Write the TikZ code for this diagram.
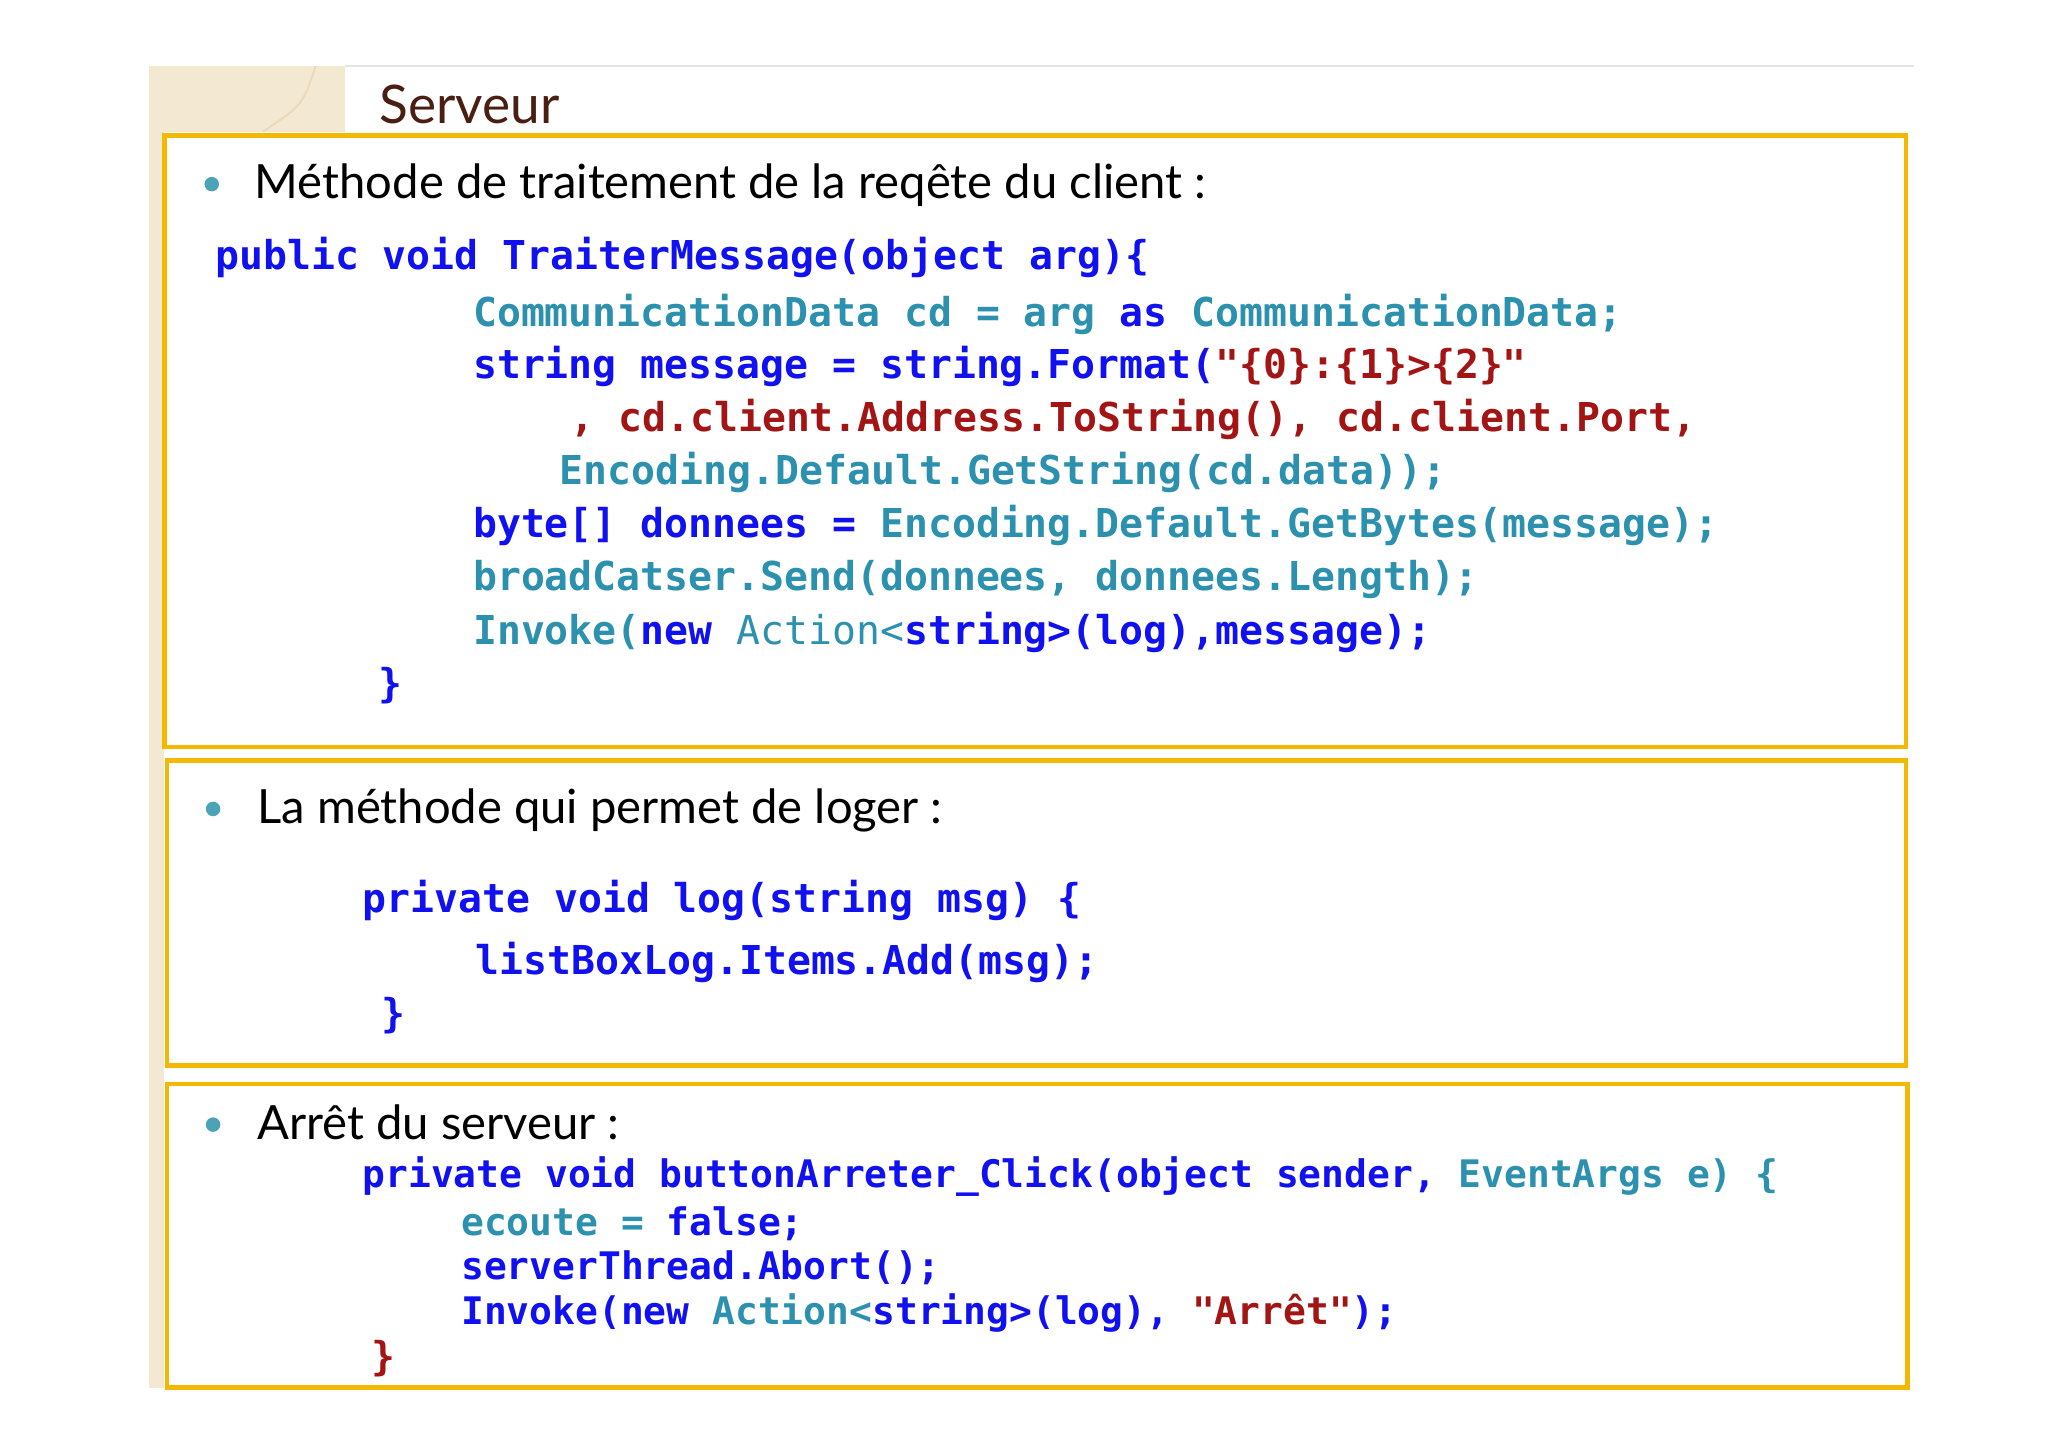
\documentclass[tikz,border=0pt]{standalone}
\usepackage{fontspec}
\setmainfont{Lato}
\setmonofont{DejaVu Sans Mono}
\definecolor{kw}{HTML}{1010F0}
\definecolor{ty}{HTML}{2B91AF}
\definecolor{st}{HTML}{A31515}
\definecolor{frame}{HTML}{F5B800}
\definecolor{beige}{HTML}{F3E9D2}
\definecolor{bul}{HTML}{4BA3B5}
\definecolor{title}{HTML}{4A1E12}
\newcommand{\K}[1]{\textcolor{kw}{#1}}
\newcommand{\T}[1]{\textcolor{ty}{#1}}
\newcommand{\Sx}[1]{\textcolor{st}{#1}}
\tikzset{
 code/.style={anchor=base west,inner sep=0,font=\ttfamily\bfseries\fontsize{8.6}{10}\selectfont},
 txt/.style={anchor=base west,inner sep=0,font=\fontsize{10.2}{12}\selectfont},
 boxf/.style={draw=frame,line width=1pt},
 bullet/.style={circle,fill=bul,inner sep=0,minimum size=0.11cm}
}
\begin{document}
\begin{tikzpicture}[x=0.01cm,y=-0.01cm]
\useasboundingbox[fill=white] (0,0) rectangle (1557,1100);
\fill[beige] (113,50) rectangle (125,1055);
\fill[beige] (113,50) rectangle (262,100);
\draw[beige!60!brown,opacity=0.4] (200,100) .. controls (230,80) .. (240,50);
\draw[gray!20] (262,50) -- (1455,50);
\node[anchor=base west,inner sep=0,font=\fontsize{11.5}{13}\selectfont,text=title] (title) at (288,94) {Serveur};
\draw[boxf] (125,103) rectangle (1449,568);
\draw[boxf] (127,578) rectangle (1449,810);
\draw[boxf] (127,824) rectangle (1450,1055);
\node[bullet] (b1) at (161,140) {};
\node[bullet] (b2) at (162,615) {};
\node[bullet] (b3) at (162,855) {};
\node[txt] (t1) at (193,151) {Méthode de traitement de la reqête du client :};
\node[txt] (t2) at (195,626) {La méthode qui permet de loger :};
\node[txt] (t3) at (195,866) {Arrêt du serveur :};
\node[code] (c1) at (163,205) {\K{public void TraiterMessage(object arg)\{}};
\node[code] (c2) at (359,248) {\T{CommunicationData cd = arg} \K{as} \T{CommunicationData;}};
\node[code] (c3) at (359,288) {\K{string message = string.Format(}\Sx{"\{0\}:\{1\}>\{2\}"}};
\node[code] (c4) at (433,328) {\Sx{, cd.client.Address.ToString(), cd.client.Port,}};
\node[code] (c5) at (425,368) {\T{Encoding.Default.GetString(cd.data));}};
\node[code] (c6) at (359,409) {\K{byte[] donnees =} \T{Encoding.Default.GetBytes(message);}};
\node[code] (c7) at (359,449) {\T{broadCatser.Send(donnees, donnees.Length);}};
\node[code] (c8) at (359,490) {\T{Invoke(}\K{new} \T{\mdseries Action<}\K{string>(log),message);}};
\node[code] (c9) at (287,530) {\K{\}}};
\node[code] (d1) at (275,694) {\K{private void log(string msg) \{}};
\node[code] (d2) at (361,741) {\K{listBoxLog.Items.Add(msg);}};
\node[code] (d3) at (289,781) {\K{\}}};
\node[code,font=\ttfamily\bfseries\fontsize{8.2}{10}\selectfont] (e1) at (275,903) {\K{private void buttonArreter\_Click(object sender,} \T{EventArgs e) \{}};
\node[code,font=\ttfamily\bfseries\fontsize{8.2}{10}\selectfont] (e2) at (350,939) {\T{ecoute =} \K{false;}};
\node[code,font=\ttfamily\bfseries\fontsize{8.2}{10}\selectfont] (e3) at (350,973) {\K{serverThread.Abort();}};
\node[code,font=\ttfamily\bfseries\fontsize{8.2}{10}\selectfont] (e4) at (350,1007) {\K{Invoke(new} \T{Action<}\K{string>(log),} \Sx{"Arrêt"}\K{);}};
\node[code] (e5) at (282,1042) {\Sx{\}}};
\end{tikzpicture}
\end{document}
